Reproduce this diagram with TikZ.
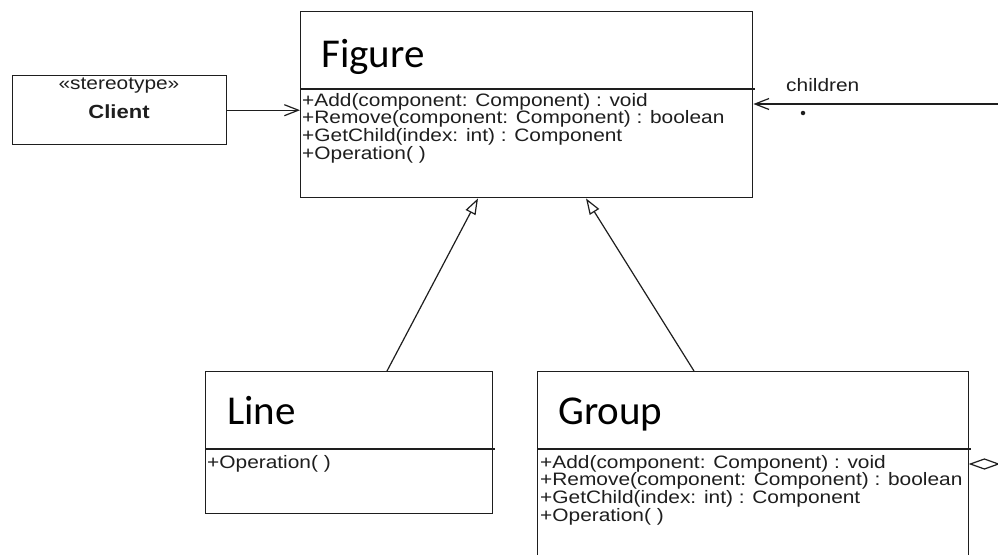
\documentclass[tikz,border=0pt]{standalone}
\usepackage{fontspec}
\usepackage{graphicx}
\setmainfont{Liberation Sans}
\newfontfamily\namefont{Carlito}
\usetikzlibrary{arrows.meta}
\definecolor{ink}{HTML}{1E1E1E}
\newcommand{\sx}[1]{\scalebox{1.16}[1]{#1}}
\tikzset{
  classbox/.style={draw=ink, line width=1.4pt, fill=none, inner sep=0pt, anchor=north west},
  cname/.style={font=\namefont\fontsize{41}{44}\selectfont, inner sep=0pt, anchor=base west, text=black},
  ops/.style={font=\fontsize{18}{17.6}\selectfont, inner sep=0pt, anchor=north west, align=left, text=ink},
  small/.style={font=\fontsize{18}{17.6}\selectfont, inner sep=0pt, text=ink},
  divider/.style={draw=ink, line width=1.4pt},
  dep/.style={draw=ink, line width=1.2pt, -{Straight Barb[length=14pt,width=11pt,line width=1.2pt]}},
  gen/.style={draw=ink, line width=1.2pt, -{Triangle[open,length=16pt,width=11pt,line width=1.2pt]}},
}
\begin{document}
\begin{tikzpicture}[x=1pt,y=-1pt]
\useasboundingbox (0,0) rectangle (998,554);
\clip (0,0) rectangle (998,554);
\fill[white] (0,0) rectangle (998,554);

% Figure
\node[classbox, minimum width=452pt, minimum height=186pt] (figure) at (300,11) {};
\draw[divider] ([yshift=-78pt]figure.north west) -- ([yshift=-78pt,xshift=2pt]figure.north east);
\node[cname] (figname) at (321,67) {Figure};
\node[ops] (figops) at (302,93) {\sx{+Add(component: Component) : void}\\
\sx{+Remove(component: Component) : boolean}\\
\sx{+GetChild(index: int) : Component}\\
\sx{+Operation( )}};

% Client
\node[classbox, minimum width=214pt, minimum height=69pt] (client) at (12,75) {};
\node[small] (stereo) at (119,86) {\sx{«stereotype»}};
\node[small, font=\bfseries\fontsize{19}{19}\selectfont] (clientname) at (119,112) {\sx{Client}};

% Line
\node[classbox, minimum width=287pt, minimum height=142pt] (line) at (205,371) {};
\draw[divider] ([yshift=-78pt]line.north west) -- ([yshift=-78pt,xshift=2pt]line.north east);
\node[cname] (linename) at (227,424) {Line};
\node[ops] (lineops) at (207,455) {\sx{+Operation( )}};

% Group
\node[classbox, minimum width=431pt, minimum height=250pt] (group) at (537,371) {};
\draw[divider] ([yshift=-78pt]group.north west) -- ([yshift=-78pt,xshift=2pt]group.north east);
\node[cname] (groupname) at (558,424) {Group};
\node[ops] (groupops) at (540,455) {\sx{+Add(component: Component) : void}\\
\sx{+Remove(component: Component) : boolean}\\
\sx{+GetChild(index: int) : Component}\\
\sx{+Operation( )}};

% Client -> Figure
\draw[dep] (client.east) -- (client.east -| figure.west);

% children association
\coordinate (offright) at (1004,104);
\draw[dep] (offright) -- (offright -| figure.east);
\node[small, anchor=west] (childlabel) at (786,85) {\sx{children}};
\node[circle, fill=ink, inner sep=0pt, minimum size=4.5pt] (mult) at (803,113) {};

% generalizations
\draw[gen] ([xshift=182pt]line.north west) -- ([xshift=178pt]figure.south west);
\draw[gen] ([xshift=157pt]group.north west) -- ([xshift=286pt]figure.south west);

% aggregation diamond
\coordinate (agg) at ([xshift=1pt,yshift=-93pt]group.north east);
\draw[draw=ink, line width=1.2pt, fill=white] (agg) -- ++(14,-5) -- ++(14,5) -- ++(-14,5) -- cycle;
\end{tikzpicture}
\end{document}
